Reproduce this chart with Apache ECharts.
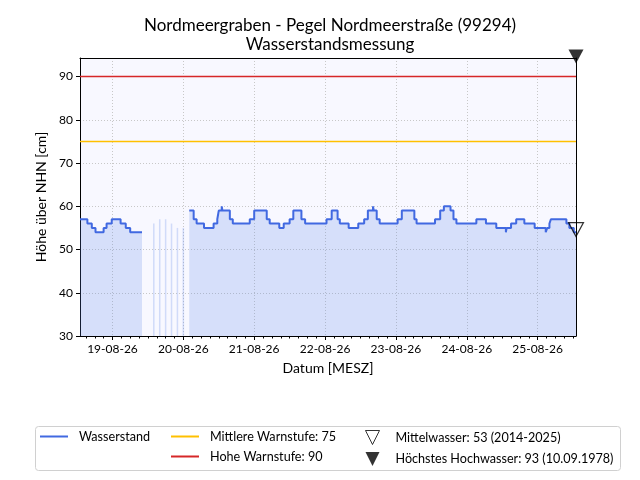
<!DOCTYPE html>
<html>
<head>
<meta charset="UTF-8">
<title>Nordmeergraben - Pegel Nordmeerstraße</title>
<script type="text/javascript" src="https://cdn.jsdelivr.net/npm/echarts@6/dist/echarts.min.js"></script>
<style>
    html, body { margin: 0; padding: 0; background: #fff; }
</style>
</head>
<body>

    <div id="main" style="width: 640px; height: 480px;"></div>
    <script type="text/javascript">
        // Zeitpunkte, ab denen der jeweilige Wasserstand gilt (Treppenkurve), null = Datenluecke
        var levelTimes = [
            '2026-08-18 13:00', '2026-08-18 15:30', '2026-08-18 17:00', '2026-08-18 18:15',
            '2026-08-18 21:00', '2026-08-18 22:00', '2026-08-18 23:45', '2026-08-19 02:45',
            '2026-08-19 04:30', '2026-08-19 06:00', '2026-08-19 09:00',
            '2026-08-19 10:00',
            '2026-08-20 02:00', '2026-08-20 03:30', '2026-08-20 04:30', '2026-08-20 07:00',
            '2026-08-20 10:15', '2026-08-20 11:30', '2026-08-20 12:00', '2026-08-20 13:00',
            '2026-08-20 13:15', '2026-08-20 15:45', '2026-08-20 16:45', '2026-08-20 22:30',
            '2026-08-21 00:00', '2026-08-21 04:15', '2026-08-21 05:15', '2026-08-21 08:30',
            '2026-08-21 10:00', '2026-08-21 12:00', '2026-08-21 13:15', '2026-08-21 16:00',
            '2026-08-21 17:15', '2026-08-22 00:30', '2026-08-22 02:15', '2026-08-22 04:15',
            '2026-08-22 05:00', '2026-08-22 08:00', '2026-08-22 11:15', '2026-08-22 13:15',
            '2026-08-22 14:30', '2026-08-22 16:15', '2026-08-22 16:30', '2026-08-22 17:30',
            '2026-08-22 18:30', '2026-08-23 00:35', '2026-08-23 02:00', '2026-08-23 06:15',
            '2026-08-23 07:00', '2026-08-23 13:15', '2026-08-23 15:00', '2026-08-23 16:15',
            '2026-08-23 18:30', '2026-08-23 19:30', '2026-08-23 20:30', '2026-08-24 03:15',
            '2026-08-24 06:30', '2026-08-24 10:00', '2026-08-24 13:15', '2026-08-24 13:30',
            '2026-08-24 15:00', '2026-08-24 16:45', '2026-08-24 19:30', '2026-08-24 23:00',
            '2026-08-25 02:45', '2026-08-25 03:15', '2026-08-25 04:00', '2026-08-25 04:30',
            '2026-08-25 09:45', '2026-08-25 10:45', '2026-08-25 12:15', '2026-08-25 13:00'
        ];
        var levelValues = [
            57, 56, 55, 54,
            55, 56, 57, 56,
            55, 54, 54,
            null,
            59, 57, 56, 55,
            56, 57, 59, 60,
            59, 57, 56, 57,
            59, 57, 56, 55,
            56, 57, 59, 57,
            56, 57, 59, 57,
            56, 55, 56, 57,
            59, 60, 59, 57,
            56, 57, 59, 57,
            56, 57, 59, 60,
            59, 57, 56, 57,
            56, 55, 54, 55,
            56, 57, 56, 55,
            54, 55, 56, 57,
            56, 55, 54, 54
        ];

        // einzelne Messwerte in der Luecke
        var spotTimes = ['2026-08-19 14:00', '2026-08-19 16:00', '2026-08-19 18:00',
                         '2026-08-19 20:00', '2026-08-19 22:00', '2026-08-20 00:00'];
        var spotValues = [56, 57, 57, 56, 55, 55];

        var xStart = '2026-08-18 13:00';
        var xEnd = '2026-08-25 13:00';
        var dayTicks = ['2026-08-19 00:00', '2026-08-20 00:00', '2026-08-21 00:00', '2026-08-22 00:00',
                        '2026-08-23 00:00', '2026-08-24 00:00', '2026-08-25 00:00'];
        var yTicks = [30, 40, 50, 60, 70, 80, 90];

        var mittlereWarnstufe = 75;
        var hoheWarnstufe = 90;
        var mittelwasser = 53;
        var hoechstesHochwasser = 93;

        var nameWasser = 'Wasserstand';
        var nameMittel = 'Mittlere Warnstufe: 75';
        var nameHoch = 'Hohe Warnstufe: 90';
        var nameMW = 'Mittelwasser: 53 (2014-2025)';
        var nameHHW = 'Höchstes Hochwasser: 93 (10.09.1978)';

        // 'YYYY-MM-DD hh:mm' -> ms (Ortszeit)
        function ts(s) {
            return new Date(s.replace(' ', 'T')).getTime();
        }

        var HOUR = 3600 * 1000;
        var xMin = ts(xStart), xMax = ts(xEnd);

        // Nebenstriche alle 3 Stunden
        var minorTicks = [];
        for (var h = 2; h < 168; h += 3) {
            minorTicks.push(xMin + h * HOUR);
        }

        function pad(n) { return n < 10 ? '0' + n : '' + n; }
        function fmtDay(v) {
            var d = new Date(v);
            return pad(d.getDate()) + '-' + pad(d.getMonth() + 1) + '-' + String(d.getFullYear()).slice(2);
        }

        var font = 'Lato, "Open Sans", sans-serif';
        var triDown = 'path://M0,0L15,0L7.5,15Z';

        var levelData = levelTimes.map(function (t, i) {
            return [ts(t), levelValues[i] === null ? '-' : levelValues[i]];
        });
        var spotData = spotTimes.map(function (t, i) { return [ts(t), spotValues[i]]; });

        var legendText = { fontFamily: font, fontSize: 12.6, color: '#000', padding: [0, 0, 0, 6] };
        // Linien in der Legende ohne Punkt
        var noDot = { color: 'rgba(0,0,0,0)', borderColor: 'rgba(0,0,0,0)', borderWidth: 0 };

        var myChart = echarts.init(document.getElementById('main'));

        var option = {
            backgroundColor: '#fff',
            animation: false,
            textStyle: { fontFamily: font },
            title: {
                text: 'Nordmeergraben - Pegel Nordmeerstraße (99294)\nWasserstandsmessung',
                left: 330,
                top: 16,
                padding: 0,
                textAlign: 'center',
                textStyle: { fontFamily: font, fontSize: 17, fontWeight: 'normal', color: '#000', lineHeight: 19 }
            },
            grid: {
                left: 80, right: 64, top: 58, bottom: 144,
                show: true,
                backgroundColor: '#f8f8ff',
                borderWidth: 0
            },
            legend: [
                {
                    data: [nameWasser],
                    left: 39, top: 430, padding: 0,
                    itemWidth: 28, itemHeight: 14,
                    itemStyle: noDot,
                    textStyle: legendText
                },
                {
                    data: [nameMittel, nameHoch],
                    orient: 'vertical',
                    left: 170, top: 430, itemGap: 7, padding: 0,
                    itemWidth: 28, itemHeight: 14,
                    itemStyle: noDot,
                    textStyle: legendText
                },
                {
                    data: [
                        { name: nameMW, icon: triDown, itemStyle: { color: '#fff', borderColor: '#000', borderWidth: 1 } },
                        { name: nameHHW, icon: triDown, itemStyle: { color: '#000', borderColor: '#000', borderWidth: 0 } }
                    ],
                    orient: 'vertical',
                    left: 365, top: 430, itemGap: 7, padding: 0,
                    itemWidth: 28, itemHeight: 14,
                    textStyle: { fontFamily: font, fontSize: 12.6, color: '#000', padding: [0, 0, 0, 4] }
                }
            ],
            graphic: [{
                type: 'rect',
                shape: { x: 35.5, y: 426.5, width: 585, height: 44, r: 3 },
                style: { fill: 'none', stroke: '#d0d0d0', lineWidth: 1 },
                z: -1
            }],
            xAxis: [
                {
                    type: 'value',
                    min: xMin, max: xMax,
                    name: 'Datum [MESZ]',
                    nameLocation: 'middle',
                    nameGap: 25,
                    nameTextStyle: { fontFamily: font, fontSize: 14, color: '#000' },
                    axisLine: { show: true, onZero: false, lineStyle: { color: '#000', width: 1 } },
                    axisTick: { show: true, length: 4, customValues: dayTicks.map(ts), lineStyle: { color: '#000' } },
                    axisLabel: {
                        customValues: dayTicks.map(ts),
                        formatter: fmtDay,
                        fontFamily: font, fontSize: 12, color: '#000', margin: 7
                    },
                    splitLine: { show: true, lineStyle: { color: '#c8c8c8', type: [1, 2], width: 1 } }
                },
                {
                    type: 'value',
                    min: xMin, max: xMax,
                    position: 'bottom',
                    axisLine: { show: false },
                    axisTick: { show: true, length: 2.5, customValues: minorTicks, lineStyle: { color: '#000' } },
                    axisLabel: { show: false },
                    splitLine: { show: false }
                },
                {
                    type: 'value',
                    min: xMin, max: xMax,
                    position: 'top',
                    axisLine: { show: true, onZero: false, lineStyle: { color: '#000', width: 1 } },
                    axisTick: { show: false },
                    axisLabel: { show: false },
                    splitLine: { show: false }
                }
            ],
            yAxis: [
                {
                    type: 'value',
                    min: 30, max: 94.3,
                    interval: 10,
                    name: 'Höhe über NHN [cm]',
                    nameLocation: 'middle',
                    nameGap: 30,
                    nameTextStyle: { fontFamily: font, fontSize: 14, color: '#000' },
                    axisLine: { show: true, onZero: false, lineStyle: { color: '#000', width: 1 } },
                    axisTick: { show: true, length: 4, customValues: yTicks, lineStyle: { color: '#000' } },
                    axisLabel: { customValues: yTicks, fontFamily: font, fontSize: 12, color: '#000', margin: 7 },
                    splitLine: { show: true, lineStyle: { color: '#c8c8c8', type: [1, 2], width: 1 } }
                },
                {
                    type: 'value',
                    min: 30, max: 94.3,
                    position: 'right',
                    axisLine: { show: true, onZero: false, lineStyle: { color: '#000', width: 1 } },
                    axisTick: { show: false },
                    axisLabel: { show: false },
                    splitLine: { show: false }
                }
            ],
            series: [
                {
                    name: nameWasser,
                    type: 'line',
                    step: 'end',
                    data: levelData,
                    symbol: 'none',
                    connectNulls: false,
                    lineStyle: { color: '#4169e1', width: 2 },
                    itemStyle: { color: '#4169e1' },
                    areaStyle: { color: 'rgba(90,130,230,0.3)', origin: 'start' },
                    z: 3
                },
                {
                    name: nameWasser,
                    type: 'bar',
                    data: spotData,
                    barWidth: 1.5,
                    itemStyle: { color: 'rgba(90,130,230,0.25)' },
                    legendHoverLink: false,
                    z: 2
                },
                {
                    name: nameMittel,
                    type: 'line',
                    data: [[xMin, mittlereWarnstufe], [xMax, mittlereWarnstufe]],
                    symbol: 'none',
                    lineStyle: { color: '#ffc000', width: 1.5 },
                    itemStyle: { color: '#ffc000' },
                    z: 4
                },
                {
                    name: nameHoch,
                    type: 'line',
                    data: [[xMin, hoheWarnstufe], [xMax, hoheWarnstufe]],
                    symbol: 'none',
                    lineStyle: { color: '#d62728', width: 1.5 },
                    itemStyle: { color: '#d62728' },
                    z: 4
                },
                {
                    name: nameMW,
                    type: 'scatter',
                    data: [[xMax, mittelwasser]],
                    symbol: 'triangle',
                    symbolRotate: 180,
                    symbolSize: [15, 14],
                    symbolOffset: [0, '-50%'],
                    clip: false,
                    itemStyle: { color: 'rgba(255,255,255,0)', borderColor: '#000', borderWidth: 1.2 },
                    z: 6
                },
                {
                    name: nameHHW,
                    type: 'scatter',
                    data: [[xMax, hoechstesHochwasser]],
                    symbol: 'triangle',
                    symbolRotate: 180,
                    symbolSize: [15, 14],
                    symbolOffset: [0, '-50%'],
                    clip: false,
                    itemStyle: { color: '#000' },
                    z: 6
                }
            ]
        };

        myChart.setOption(option);
    </script>
</body>
</html>
